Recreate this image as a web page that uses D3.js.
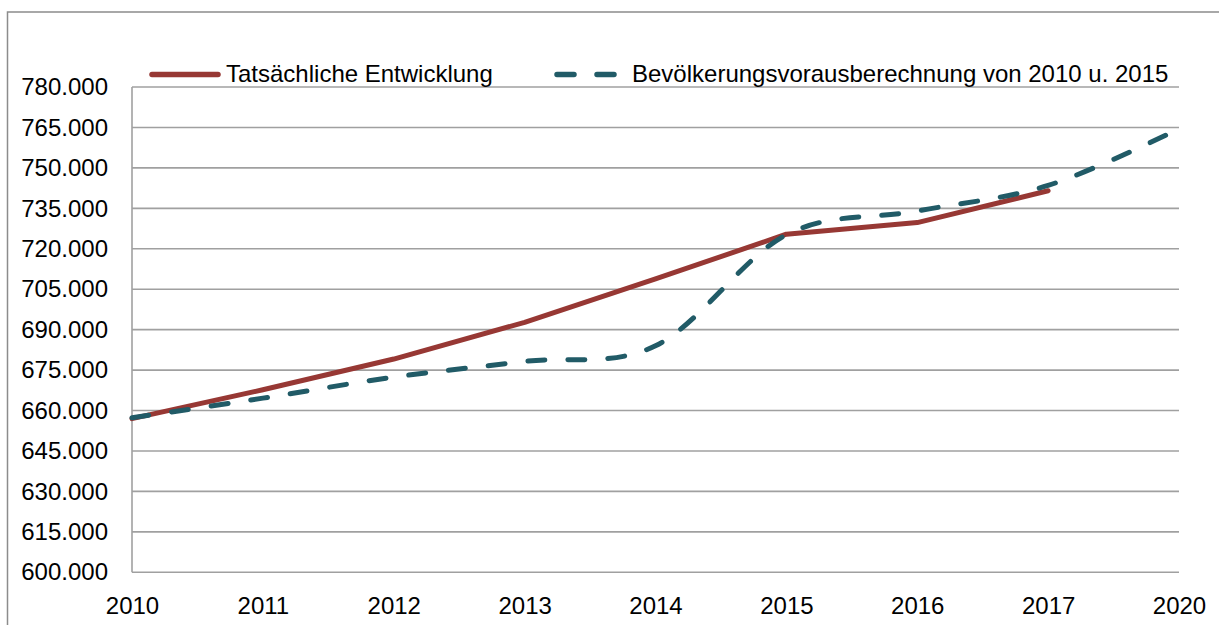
<!DOCTYPE html>
<html>
<head>
<meta charset="utf-8">
<script src="https://cdn.jsdelivr.net/npm/d3@7"></script>
<style>
  html, body { margin: 0; padding: 0; background: #fff; }
  svg { display: block; }
  text { font-family: "Liberation Sans", Arial, sans-serif; fill: #000; }
</style>
</head>
<body>
<svg id="chart" width="1219" height="625"></svg>
<script>
// ---- data ----
const years = ["2010", "2011", "2012", "2013", "2014", "2015", "2016", "2017", "2020"];
const actual = [657.0, 667.7, 679.1, 692.7, 708.8, 725.4, 729.7, 741.5];           // thousands, 2010–2017
const projection = [657.3, 664.6, 672.4, 678.2, 684.0, 725.2, 734.0, 743.5, 764.5]; // thousands, 2010–2020
const yTicks = [600, 615, 630, 645, 660, 675, 690, 705, 720, 735, 750, 765, 780];
const seriesNames = ["Tatsächliche Entwicklung", "Bevölkerungsvorausberechnung von 2010 u. 2015"];

(function () {
// ---- layout ----
const svg = d3.select("#chart");
const pLeft = 132, pRight = 1179, pTop = 87, pBottom = 572.3;
const red = "#973834", teal = "#215b67";

const x = d3.scalePoint().domain(years).range([pLeft, pRight]);
const y = d3.scaleLinear().domain([600, 780]).range([pBottom, pTop]);

const de = d3.formatLocale({ decimal: ",", thousands: ".", grouping: [3], currency: ["", " €"] });
const fmt = v => de.format(",d")(v * 1000);

// outer border (runs off the right and bottom edges)
svg.append("rect")
  .attr("x", 7.5).attr("y", 12).attr("width", 1400).attr("height", 800)
  .attr("fill", "none").attr("stroke", "#8c8c8c").attr("stroke-width", 1.5);

// gridlines
svg.append("g").selectAll("line").data(yTicks).join("line")
  .attr("x1", pLeft).attr("x2", pRight)
  .attr("y1", d => y(d)).attr("y2", d => y(d))
  .attr("stroke", "#a0a0a0").attr("stroke-width", 1.6);

// y axis line
svg.append("line")
  .attr("x1", pLeft).attr("x2", pLeft).attr("y1", pTop).attr("y2", pBottom)
  .attr("stroke", "#a0a0a0").attr("stroke-width", 1.6);

// y tick labels
const yAxis = d3.axisLeft(y).tickValues(yTicks).tickFormat(fmt).tickSize(0).tickPadding(24);
const yg = svg.append("g").attr("transform", `translate(${pLeft},0)`).call(yAxis);
yg.select(".domain").remove();
yg.selectAll("text").attr("font-size", 24).attr("font-family", "Liberation Sans, Arial, sans-serif").attr("fill", "#000");

// x tick labels
const xAxis = d3.axisBottom(x).tickSize(0).tickPadding(25);
const xg = svg.append("g").attr("transform", `translate(0,${pBottom})`).call(xAxis);
xg.select(".domain").remove();
xg.selectAll("text").attr("font-size", 24).attr("font-family", "Liberation Sans, Arial, sans-serif").attr("fill", "#000");

// lines
const lineLinear = d3.line().x(d => x(d.year)).y(d => y(d.value));
const lineSmooth = d3.line().x(d => x(d.year)).y(d => y(d.value)).curve(d3.curveCardinal.tension(0));

const actualData = actual.map((v, i) => ({ year: years[i], value: v }));
const projData = projection.map((v, i) => ({ year: years[i], value: v }));

svg.append("path").datum(actualData)
  .attr("d", lineLinear).attr("fill", "none")
  .attr("stroke", red).attr("stroke-width", 5)
  .attr("stroke-linecap", "round").attr("stroke-linejoin", "round");

svg.append("path").datum(projData)
  .attr("d", lineSmooth).attr("fill", "none")
  .attr("stroke", teal).attr("stroke-width", 5)
  .attr("stroke-dasharray", "17,23")
  .attr("stroke-linecap", "round").attr("stroke-linejoin", "round");

// legend
const lg = svg.append("g");
const ly = 74.5;
lg.append("line").attr("x1", 152).attr("x2", 218).attr("y1", ly).attr("y2", ly)
  .attr("stroke", red).attr("stroke-width", 5.5).attr("stroke-linecap", "round");
lg.append("text").attr("x", 226).attr("y", 82).attr("font-size", 24).text(seriesNames[0]);

lg.append("line").attr("x1", 557).attr("x2", 614).attr("y1", ly).attr("y2", ly)
  .attr("stroke", teal).attr("stroke-width", 5.5).attr("stroke-linecap", "round")
  .attr("stroke-dasharray", "17,23");
lg.append("text").attr("x", 632).attr("y", 82).attr("font-size", 24).text(seriesNames[1]);
})();
</script>
</body>
</html>
